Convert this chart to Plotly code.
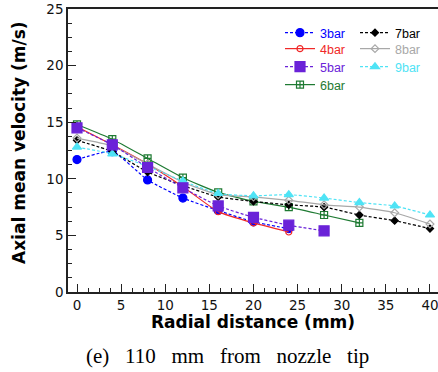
import plotly.graph_objects as go

x_all = [0, 4, 8, 12, 16, 20, 24, 28, 32, 36, 40]

v3 = [11.7, 12.4, 9.9, 8.3, 7.2, 6.2, 5.6]
v4 = [14.6, 13.0, 11.3, 9.3, 7.1, 6.1, 5.3]
v5 = [14.5, 13.0, 11.0, 9.2, 7.6, 6.6, 5.9, 5.4]
v6 = [14.8, 13.5, 11.8, 10.1, 8.8, 8.0, 7.5, 6.8, 6.1]
v7 = [13.4, 12.4, 10.6, 9.4, 8.4, 8.0, 7.7, 7.5, 6.8, 6.3, 5.6]
v8 = [13.6, 12.9, 11.3, 9.7, 8.6, 8.4, 8.1, 7.7, 7.5, 7.0, 6.0]
v9 = [12.8, 12.2, 11.1, 9.8, 8.7, 8.5, 8.6, 8.3, 7.9, 7.6, 6.8]

names = ["3bar", "4bar", "5bar", "6bar", "7bar", "8bar", "9bar"]
colors = ["#0000FF", "#F02828", "#6A22D8", "#1E7A32", "#000000", "#A8A8A8", "#4FE3F5"]

series = {
    "3bar": dict(y=v3, dash="3px,2px", symbol="circle", size=8),
    "4bar": dict(y=v4, dash="solid", symbol="circle-open", size=6),
    "5bar": dict(y=v5, dash="3px,2px", symbol="square", size=10),
    "6bar": dict(y=v6, dash="solid", symbol="square-cross-open", size=7),
    "7bar": dict(y=v7, dash="3px,2px", symbol="diamond", size=5.5),
    "8bar": dict(y=v8, dash="solid", symbol="diamond-open", size=6),
    "9bar": dict(y=v9, dash="3px,2px", symbol="triangle-up", size=8),
}

# legend slot (pixel positions: left of entry, top of entry)
W, H, L, T, PW, PH = 438, 372, 68, 9, 370, 283
col1_left, col2_left = 280, 355
row_tops = [18, 34, 52, 70]
legend_pos = {
    "3bar": (col1_left, row_tops[0]),
    "4bar": (col1_left, row_tops[1]),
    "5bar": (col1_left, row_tops[2]),
    "6bar": (col1_left, row_tops[3]),
    "7bar": (col2_left, row_tops[0]),
    "8bar": (col2_left, row_tops[1]),
    "9bar": (col2_left, row_tops[2]),
}

fig = go.Figure()
order = ["3bar", "4bar", "6bar", "7bar", "8bar", "9bar", "5bar"]
legend_layouts = {}
for nm in order:
    s = series[nm]
    i = names.index(nm)
    c = colors[i]
    ys = s["y"]
    lname = "legend" if i == 0 else f"legend{i + 1}"
    fig.add_trace(go.Scatter(
        x=x_all[:len(ys)], y=ys, mode="lines+markers",
        name=f"<span style='color:{c}'>{nm}</span>",
        line=dict(color=c, width=1.2, dash=s["dash"], shape="spline", smoothing=0.5),
        marker=dict(color=c, symbol=s["symbol"], size=s["size"],
                    line=dict(color=c, width=1.2)),
        legend=lname,
    ))
    px, py = legend_pos[nm]
    legend_layouts[lname] = dict(
        x=(px - L) / PW, y=1 - (py - T) / PH, xanchor="left", yanchor="top",
        font=dict(family="Liberation Sans", size=12.5),
        bgcolor="rgba(0,0,0,0)", itemwidth=30,
    )

axis_common = dict(
    showgrid=False, zeroline=False, showline=True, linecolor="#222222", linewidth=1.5,
    ticks="inside", ticklen=8, tickwidth=1, tickcolor="#222222",
    tickfont=dict(family="DejaVu Sans", size=13.5, color="#111111"),
    ticklabeloverflow="allow",
    minor=dict(ticks="inside", ticklen=4, tickwidth=1, tickcolor="#222222", dtick=1.25),
)

fig.update_xaxes(range=[-1.02, 40.91], tickmode="linear", tick0=0, dtick=5,
                 mirror=True, **axis_common)
fig.update_yaxes(range=[0, 25], tickmode="linear", tick0=0, dtick=5, **axis_common)

gap = "&nbsp;&nbsp;&nbsp;"
caption = gap.join(["(e)", "110", "mm", "from", "nozzle", "tip"])

fig.update_layout(
    width=W, height=H,
    margin=dict(l=L, r=0, t=T, b=80),
    paper_bgcolor="white", plot_bgcolor="white",
    showlegend=True,
    annotations=[
        dict(text="<b>Radial distance (mm)</b>", xref="paper", yref="paper",
             x=(252.5 - L) / PW, y=-(322 - 292) / PH, xanchor="center", yanchor="middle",
             showarrow=False, font=dict(family="DejaVu Sans", size=17, color="#000000")),
        dict(text="<b>Axial mean velocity (m/s)</b>", xref="paper", yref="paper",
             x=-(L - 19) / PW, y=(292 - 143) / PH, xanchor="center", yanchor="middle",
             textangle=-90, showarrow=False,
             font=dict(family="DejaVu Sans", size=17, color="#000000")),
        dict(text=caption,
             xref="paper", yref="paper",
             x=(227.5 - L) / PW, y=-(356 - 292) / PH, xanchor="center", yanchor="middle",
             showarrow=False, font=dict(family="Liberation Serif", size=21, color="#000000")),
    ],
    **legend_layouts,
)

fig.write_html("out.html")
